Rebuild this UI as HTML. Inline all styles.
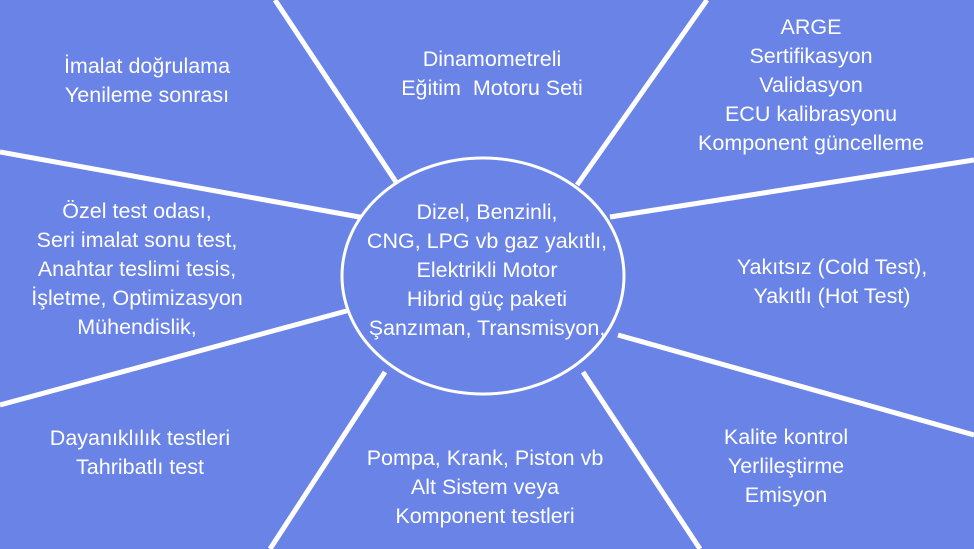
<!DOCTYPE html>
<html><head><meta charset="utf-8"><style>
body{margin:0;width:974px;height:549px;overflow:hidden;background:#6983e6;}
svg{position:absolute;left:0;top:0}
.t{position:absolute;color:#fff;font-family:"Liberation Sans",sans-serif;font-size:21.5px;line-height:29px;text-align:center;white-space:nowrap;transform:translateX(-50%)}
</style></head><body>
<svg width="974" height="549">
<g stroke="#fff" stroke-width="5" fill="none">
<line x1="275" y1="0" x2="398" y2="185"/>
<line x1="707" y1="0" x2="577" y2="185"/>
<line x1="0" y1="152" x2="365" y2="218"/>
<line x1="974" y1="160" x2="610" y2="217"/>
<line x1="0" y1="405" x2="350" y2="310"/>
<line x1="974" y1="435" x2="618" y2="335"/>
<line x1="385" y1="372" x2="270" y2="549"/>
<line x1="583" y1="372" x2="700" y2="549"/>
</g>
<ellipse cx="483" cy="276" rx="141" ry="118" fill="#6983e6" stroke="#fff" stroke-width="3"/>
</svg>
<div class="t" style="left:487px;top:198px">Dizel, Benzinli,<br>CNG, LPG vb gaz yakıtlı,<br>Elektrikli Motor<br>Hibrid güç paketi<br>Şanzıman, Transmisyon,</div>
<div class="t" style="left:147px;top:52px">İmalat doğrulama<br>Yenileme sonrası</div>
<div class="t" style="left:492px;top:45px">Dinamometreli<br>Eğitim&nbsp; Motoru Seti</div>
<div class="t" style="left:811px;top:13px">ARGE<br>Sertifikasyon<br>Validasyon<br>ECU kalibrasyonu<br>Komponent güncelleme</div>
<div class="t" style="left:137px;top:197px">Özel test odası,<br>Seri imalat sonu test,<br>Anahtar teslimi tesis,<br>İşletme, Optimizasyon<br>Mühendislik,</div>
<div class="t" style="left:832px;top:253px">Yakıtsız (Cold Test),<br>Yakıtlı (Hot Test)</div>
<div class="t" style="left:140px;top:424px">Dayanıklılık testleri<br>Tahribatlı test</div>
<div class="t" style="left:485px;top:444px">Pompa, Krank, Piston vb<br>Alt Sistem veya<br>Komponent testleri</div>
<div class="t" style="left:786px;top:423px">Kalite kontrol<br>Yerlileştirme<br>Emisyon</div>
</body></html>
